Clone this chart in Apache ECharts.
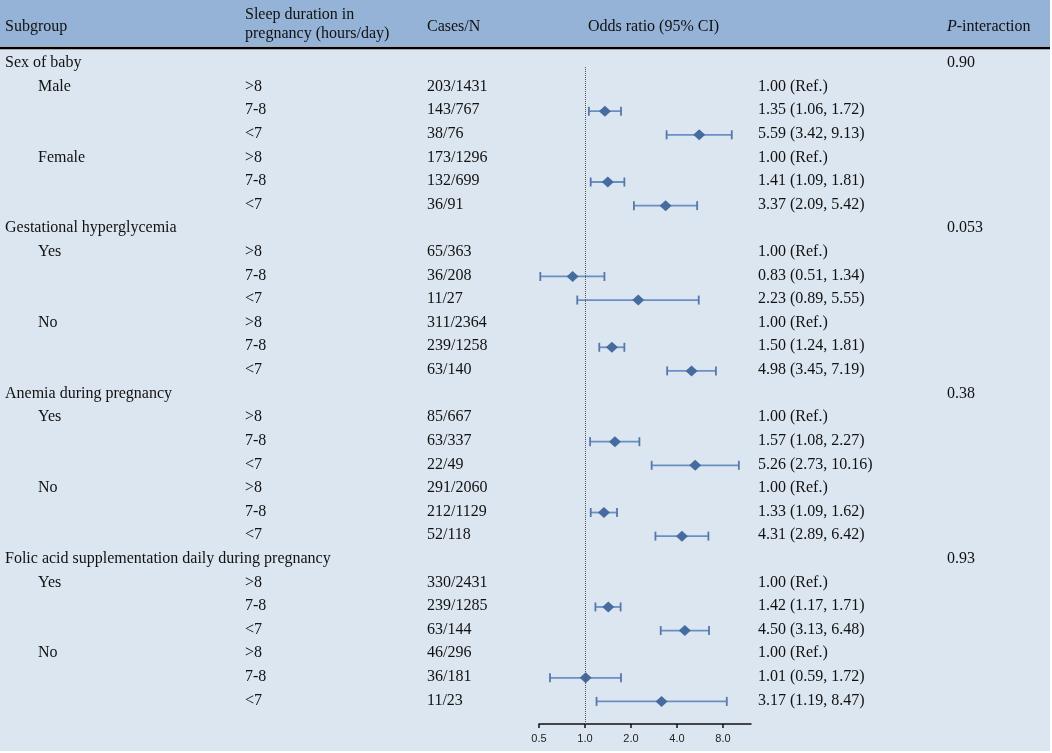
<!DOCTYPE html>
<html lang="en">
<head>
<meta charset="UTF-8">
<title>Forest plot</title>
<script src="https://cdn.jsdelivr.net/npm/echarts@6.0.0/dist/echarts.min.js"></script>
<style>
html, body { margin: 0; padding: 0; background: #fff; }
#main { width: 1052px; height: 753px; }
</style>
</head>
<body>
<div id="main"></div>
<script type="text/javascript">
// table data
var groups = ['Sex of baby', 'Gestational hyperglycemia', 'Anemia during pregnancy', 'Folic acid supplementation daily during pregnancy'];
var groupP = ['0.90', '0.053', '0.38', '0.93'];
var subgroups = ['Male', 'Female', 'Yes', 'No', 'Yes', 'No', 'Yes', 'No'];
var durations = ['>8', '7-8', '<7'];
var cases = ['203/1431', '143/767', '38/76', '173/1296', '132/699', '36/91',
             '65/363', '36/208', '11/27', '311/2364', '239/1258', '63/140',
             '85/667', '63/337', '22/49', '291/2060', '212/1129', '52/118',
             '330/2431', '239/1285', '63/144', '46/296', '36/181', '11/23'];
var orVal  = [1.00, 1.35, 5.59, 1.00, 1.41, 3.37, 1.00, 0.83, 2.23, 1.00, 1.50, 4.98,
              1.00, 1.57, 5.26, 1.00, 1.33, 4.31, 1.00, 1.42, 4.50, 1.00, 1.01, 3.17];
var ciLow  = [null, 1.06, 3.42, null, 1.09, 2.09, null, 0.51, 0.89, null, 1.24, 3.45,
              null, 1.08, 2.73, null, 1.09, 2.89, null, 1.17, 3.13, null, 0.59, 1.19];
var ciHigh = [null, 1.72, 9.13, null, 1.81, 5.42, null, 1.34, 5.55, null, 1.81, 7.19,
              null, 2.27, 10.16, null, 1.62, 6.42, null, 1.71, 6.48, null, 1.72, 8.47];
var axisTicks = [0.5, 1, 2, 4, 8];

var serif = '"Liberation Serif", "Times New Roman", serif';
var myChart = echarts.init(document.getElementById('main'));

// build rows: group header, then 2 subgroups x 3 durations
var textItems = [];   // [x, row, text]
var forest = [];      // [row, or, lo, hi]
var row = 0;
for (var g = 0; g < groups.length; g++) {
    textItems.push([5, row, groups[g]]);
    textItems.push([947, row, groupP[g]]);
    row++;
    for (var s = 0; s < 2; s++) {
        var si = g * 2 + s;
        textItems.push([38, row, subgroups[si]]);
        for (var d = 0; d < 3; d++) {
            var k = si * 3 + d;
            textItems.push([245, row, durations[d]]);
            textItems.push([427, row, cases[k]]);
            var txt = ciLow[k] == null
                ? orVal[k].toFixed(2) + ' (Ref.)'
                : orVal[k].toFixed(2) + ' (' + ciLow[k].toFixed(2) + ', ' + ciHigh[k].toFixed(2) + ')';
            textItems.push([758, row, txt]);
            if (ciLow[k] != null) forest.push([row, orVal[k], ciLow[k], ciHigh[k]]);
            row++;
        }
    }
}

function headerText(x, y, text) {
    return { type: 'text', x: x, y: y, style: { text: text, font: '16px ' + serif, fill: '#111', verticalAlign: 'middle' } };
}

var option = {
    backgroundColor: '#fff',
    animation: false,
    graphic: [
        { type: 'rect', shape: { x: 0, y: 0, width: 1050, height: 751 }, style: { fill: '#dce6f1' }, z: -10, silent: true },
        { type: 'rect', shape: { x: 0, y: 0, width: 1050, height: 46 }, style: { fill: '#95b3d7' }, z: -9, silent: true },
        { type: 'line', shape: { x1: 0, y1: 48, x2: 1050, y2: 48 }, style: { stroke: '#000', lineWidth: 2.5 } },
        headerText(5, 27, 'Subgroup'),
        headerText(245, 15, 'Sleep duration in'),
        headerText(245, 34, 'pregnancy (hours/day)'),
        headerText(427, 27, 'Cases/N'),
        headerText(588, 27, 'Odds ratio (95% CI)'),
        { type: 'text', x: 947, y: 27, style: {
            text: '{i|P}-interaction', font: '16px ' + serif, fill: '#111', verticalAlign: 'middle',
            rich: { i: { fontStyle: 'italic', fontFamily: serif, fontSize: 16, fill: '#111' } }
        } }
    ],
    grid: [
        { left: 539, width: 212, top: 67, height: 657 },
        { left: 0, width: 1052, top: 67, height: 657 }
    ],
    xAxis: [
        {
            type: 'log', logBase: 2, min: 0.5, max: 12.2, gridIndex: 0,
            splitLine: { show: false },
            axisLine: { onZero: false, lineStyle: { color: '#111', width: 1.5 } },
            axisTick: { customValues: axisTicks, length: 4, lineStyle: { color: '#111', width: 1.5 } },
            axisLabel: {
                customValues: axisTicks, margin: 9,
                formatter: function (v) { return (+v).toFixed(1); },
                fontFamily: '"Liberation Sans", sans-serif', fontSize: 11, color: '#222'
            }
        },
        { type: 'value', min: 0, max: 1052, gridIndex: 1, show: false }
    ],
    yAxis: [
        { type: 'value', inverse: true, min: 0.17, max: 28, gridIndex: 0, show: false },
        { type: 'value', inverse: true, min: 0.17, max: 28, gridIndex: 1, show: false }
    ],
    series: [
        {
            type: 'custom',
            xAxisIndex: 0, yAxisIndex: 0,
            data: forest,
            encode: { x: [1, 2, 3], y: 0 },
            renderItem: function (params, api) {
                var y = api.value(0);
                var c = api.coord([api.value(1), y]);
                var l = api.coord([api.value(2), y]);
                var h = api.coord([api.value(3), y]);
                var yy = c[1] + 1;
                return {
                    type: 'group',
                    children: [
                        { type: 'line', shape: { x1: l[0], y1: yy, x2: h[0], y2: yy }, style: { stroke: '#6a8fc4', lineWidth: 1.8 } },
                        { type: 'line', shape: { x1: l[0], y1: yy - 4.5, x2: l[0], y2: yy + 4.5 }, style: { stroke: '#5677ab', lineWidth: 1.8 } },
                        { type: 'line', shape: { x1: h[0], y1: yy - 4.5, x2: h[0], y2: yy + 4.5 }, style: { stroke: '#5677ab', lineWidth: 1.8 } },
                        { type: 'polygon', shape: { points: [[c[0] - 6, yy], [c[0], yy - 5.5], [c[0] + 6, yy], [c[0], yy + 5.5]] }, style: { fill: '#466b9f' } }
                    ]
                };
            },
            markLine: {
                silent: true,
                symbol: 'none',
                label: { show: false },
                lineStyle: { type: 'dotted', color: '#555', width: 1 },
                data: [{ xAxis: 1 }]
            },
            z: 3
        },
        {
            type: 'custom',
            xAxisIndex: 1, yAxisIndex: 1,
            data: textItems.map(function (t) { return [t[0], t[1]]; }),
            encode: { x: 0, y: 1 },
            renderItem: function (params, api) {
                var p = api.coord([api.value(0), api.value(1)]);
                return {
                    type: 'text', x: p[0], y: p[1],
                    style: { text: textItems[params.dataIndex][2], font: '16px ' + serif, fill: '#111', align: 'left', verticalAlign: 'middle' }
                };
            }
        }
    ]
};

myChart.setOption(option);
</script>
</body>
</html>
